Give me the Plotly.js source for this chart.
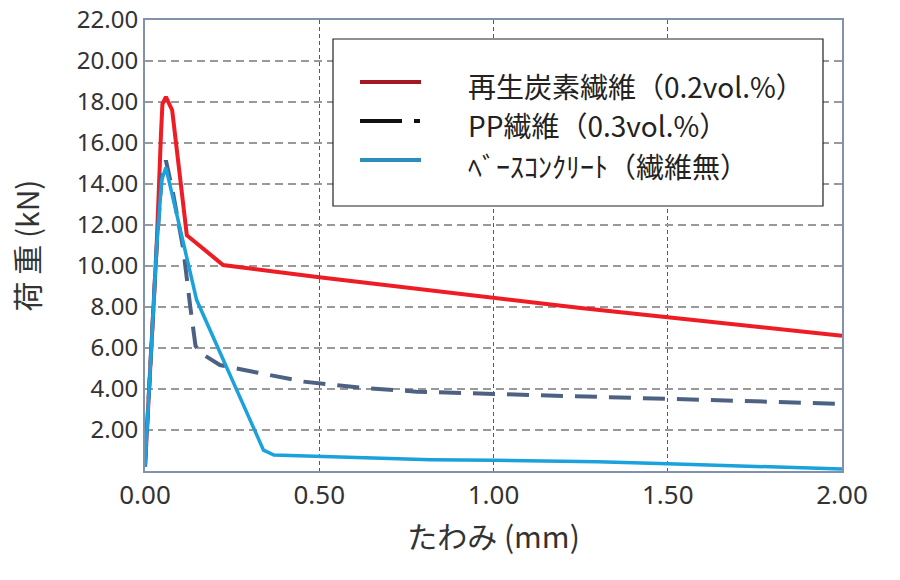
<!DOCTYPE html>
<html>
<head>
<meta charset="utf-8">
<script src="https://cdn.plot.ly/plotly-3.0.1.min.js"></script>
<style>html,body{margin:0;padding:0;background:#fff;}#chart{width:900px;height:580px;}</style>
</head>
<body>
<div id="chart"></div>
<script>
// ---- data ----
const seriesNames = ['再生炭素繊維（0.2vol.%）', 'PP繊維（0.3vol.%）', 'ﾍﾞｰｽｺﾝｸﾘｰﾄ（繊維無）'];

const carbonX = [0, 0.033, 0.046, 0.050, 0.060, 0.078, 0.120, 0.224, 0.50, 0.75, 1.00, 1.25, 1.50, 1.75, 2.00];
const carbonY = [0.2, 10.8, 16.5, 17.9, 18.25, 17.6, 11.5, 10.05, 9.45, 8.95, 8.45, 7.95, 7.50, 7.05, 6.60];

const ppX = [0, 0.033, 0.048, 0.060, 0.080, 0.110, 0.130, 0.145, 0.165, 0.215, 0.31, 0.455, 0.625, 0.78, 1.00, 1.25, 1.50, 1.75, 2.00];
const ppY = [0.2, 10.8, 14.4, 15.15, 13.6, 10.8, 8.0, 6.1, 5.7, 5.17, 4.84, 4.36, 4.05, 3.87, 3.76, 3.65, 3.55, 3.40, 3.27];

const baseX = [0, 0.033, 0.048, 0.060, 0.148, 0.340, 0.370, 0.60, 0.82, 1.00, 1.30, 1.50, 2.00];
const baseY = [0.2, 10.8, 14.2, 14.8, 8.35, 1.02, 0.78, 0.65, 0.55, 0.52, 0.45, 0.35, 0.10];

const xTicks = [0, 0.5, 1.0, 1.5, 2.0];
const yTicks = [2, 4, 6, 8, 10, 12, 14, 16, 18, 20, 22];

const lineColors = ['#ee1c24', '#4d6283', '#1ba1dc'];
const legendColors = ['#a31822', '#111111', '#2b8fc0'];

// ---- plot ----
const traces = [
  {x: carbonX, y: carbonY, name: seriesNames[0], mode: 'lines', line: {color: lineColors[0], width: 4}},
  {x: ppX, y: ppY, name: seriesNames[1], mode: 'lines', line: {color: lineColors[1], width: 4, dash: '22px,12px'}},
  {x: baseX, y: baseY, name: seriesNames[2], mode: 'lines', line: {color: lineColors[2], width: 3.5}}
];

// custom legend box (paper coordinates, plot area 145..842 x 20..471 px)
const px = v => (v - 145) / 697;
const py = v => (471 - v) / 451;
const legendRowsY = [82, 121, 160];
const legendTextY = [86, 125, 166];
const shapes = [
  {type: 'rect', xref: 'paper', yref: 'paper', x0: px(333), x1: px(823), y0: py(206), y1: py(39),
   line: {color: '#222', width: 1.2}, fillcolor: '#ffffff', layer: 'above'}
];
const dashes = ['solid', '42px,12px,6px,200px', 'solid'];
for (let i = 0; i < 3; i++) {
  shapes.push({type: 'line', xref: 'paper', yref: 'paper', x0: px(360), x1: px(421), y0: py(legendRowsY[i]), y1: py(legendRowsY[i]),
    line: {color: legendColors[i], width: 4, dash: dashes[i]}, layer: 'above'});
}
const annotations = seriesNames.map((n, i) => ({
  xref: 'paper', yref: 'paper', x: px(466), y: py(legendTextY[i]), xanchor: 'left', yanchor: 'middle',
  text: n, showarrow: false, font: {family: 'Noto Sans CJK JP', size: 28, color: '#222'}
}));

const layout = {
  width: 900, height: 580,
  margin: {l: 145, r: 58, t: 20, b: 109},
  paper_bgcolor: '#ffffff', plot_bgcolor: '#ffffff',
  showlegend: false,
  xaxis: {
    range: [0, 2], tickvals: xTicks, tickformat: '.2f', automargin: 'bottom',
    showgrid: true, gridcolor: '#5a5a5a', gridwidth: 1.2, griddash: '4px,3px',
    showline: true, mirror: true, linecolor: '#8092ad', linewidth: 2, zeroline: false,
    ticks: '', tickfont: {family: 'Noto Sans', size: 26, color: '#333'},
    title: {text: 'たわみ (mm)', standoff: 16, font: {family: 'Noto Sans CJK JP', size: 30, color: '#333'}}
  },
  yaxis: {
    range: [0, 22], tickvals: yTicks, tickformat: '.2f', automargin: 'left',
    showgrid: true, gridcolor: '#999999', gridwidth: 2, griddash: '8px,5px',
    showline: true, mirror: true, linecolor: '#8092ad', linewidth: 2, zeroline: false,
    ticks: '', tickfont: {family: 'Noto Sans', size: 24, color: '#333'},
    title: {text: '荷 重 (kN)', standoff: 28, font: {family: 'Noto Sans CJK JP', size: 30, color: '#333'}}
  },
  shapes: shapes,
  annotations: annotations
};

Plotly.newPlot('chart', traces, layout, {displayModeBar: false, staticPlot: true});
</script>
</body>
</html>
